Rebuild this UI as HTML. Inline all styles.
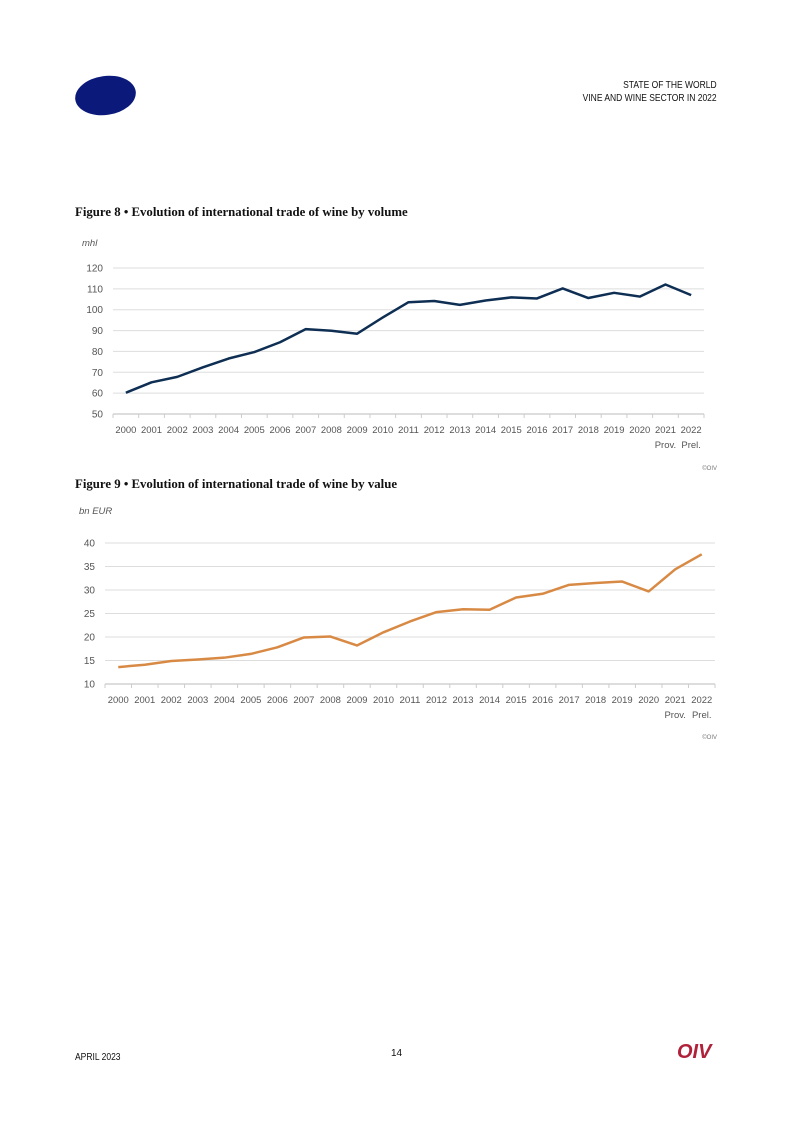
<!DOCTYPE html>
<html><head><meta charset="utf-8"><style>
body{margin:0;background:#fff;}
#page{position:relative;width:793px;height:1122px;overflow:hidden;font-family:"Liberation Sans",sans-serif;}
.t{position:absolute;}
svg text{font-family:"Liberation Sans",sans-serif;}
</style></head><body>
<div id="page">
<div class="t" style="left:75px;top:76px;width:61px;height:39px;border-radius:50%;background:#0b1a7a;transform:rotate(-8deg);"></div>
<div class="t" style="right:76px;top:79px;text-align:right;font-size:10px;line-height:13px;color:#111;transform:scaleX(0.85);transform-origin:right;font-weight:500;">STATE OF THE WORLD<br>VINE AND WINE SECTOR IN 2022</div>
<div class="t" style="left:75px;top:205px;font-family:'Liberation Serif',serif;font-weight:bold;font-size:12.8px;color:#111;">Figure 8 • Evolution of international trade of wine by volume</div>
<div class="t" style="left:75px;top:477px;font-family:'Liberation Serif',serif;font-weight:bold;font-size:12.8px;color:#111;">Figure 9 • Evolution of international trade of wine by value</div>
<svg id="c1" class="t" style="left:0;top:0" width="793" height="1122"></svg>
<div class="t" style="left:75px;top:1052px;font-size:10px;color:#111;transform:scaleX(0.85);transform-origin:left;">APRIL 2023</div>
<div class="t" style="left:391px;top:1048px;font-size:10px;color:#111;">14</div>
<div class="t" style="left:677px;top:1041px;font-size:20px;font-weight:bold;font-style:italic;color:#b0213a;">OIV</div>
</div>
<script>
const years=["2000","2001","2002","2003","2004","2005","2006","2007","2008","2009","2010","2011","2012","2013","2014","2015","2016","2017","2018","2019","2020","2021","2022"];
const volumeValues=[60.2,65.2,67.8,72.4,76.6,79.7,84.4,90.7,89.9,88.5,96.3,103.6,104.2,102.3,104.4,105.9,105.4,110.2,105.6,108.1,106.3,112.1,107.0];
const valueValues=[13.6,14.1,14.9,15.2,15.6,16.4,17.8,19.9,20.1,18.2,21.0,23.3,25.3,25.9,25.8,28.4,29.2,31.1,31.5,31.8,29.7,34.4,37.6];
const volumeTicks=[50,60,70,80,90,100,110,120];
const valueTicks=[10,15,20,25,30,35,40];
const NS="http://www.w3.org/2000/svg";
const svg=document.getElementById('c1');
function mk(tag,attrs){const e=document.createElementNS(NS,tag);for(const k in attrs)e.setAttribute(k,attrs[k]);svg.appendChild(e);return e;}
function chart(o){
  const y=v=>o.y0-(v-o.vmin)/(o.vmax-o.vmin)*(o.y0-o.y1);
  const step=(o.xb-o.xa)/years.length;
  const x=i=>o.xa+(i+0.5)*step;
  o.ticks.forEach(t=>{
    const l=mk('line',{x1:o.xa,x2:o.xb,y1:y(t),y2:y(t),stroke:t===o.vmin?'#bbb':'#ddd','stroke-width':1});
    
    const tx=mk('text',{x:o.xa-10,y:y(t)+3.5,'text-anchor':'end','font-size':10,fill:'#555'});tx.textContent=t;
    
  });
  for(let i=0;i<=years.length;i++){
    const tk=mk('line',{x1:o.xa+i*step,x2:o.xa+i*step,y1:o.y0,y2:o.y0+4,stroke:'#ccc','stroke-width':1});
    
  }
  years.forEach((yr,i)=>{
    const tx=mk('text',{x:x(i),y:o.y0+19,'text-anchor':'middle','font-size':9.5,fill:'#555',textLength:21,lengthAdjust:'spacingAndGlyphs'});tx.textContent=yr;
    
  });
  [["Prov.",21],["Prel.",22]].forEach(([s,i])=>{const tx=mk('text',{x:x(i),y:o.y0+34,'text-anchor':'middle','font-size':9.5,fill:'#555'});tx.textContent=s;
    });
  const p=mk('polyline',{points:o.vals.map((v,i)=>x(i)+','+y(v)).join(' '),fill:'none',stroke:o.color,'stroke-width':2.5,'stroke-linejoin':'round'});
  
  const u=mk('text',{x:o.ux,y:o.uy,'font-size':9.5,'font-style':'italic',fill:'#555'});u.textContent=o.unit;
  
  const c=mk('text',{x:717,y:o.cy,'text-anchor':'end','font-size':6,fill:'#777'});c.textContent='©OIV';
  
}
chart({xa:113,xb:704,y0:414,y1:268,vmin:50,vmax:120,ticks:volumeTicks,vals:volumeValues,color:'#0e2f53',name:'volume-line',unit:'mhl',ux:82,uy:246,cy:470});
chart({xa:105,xb:715,y0:684,y1:543,vmin:10,vmax:40,ticks:valueTicks,vals:valueValues,color:'#d88a45',name:'value-line',unit:'bn EUR',ux:79,uy:514,cy:739});
</script>
</body></html>
